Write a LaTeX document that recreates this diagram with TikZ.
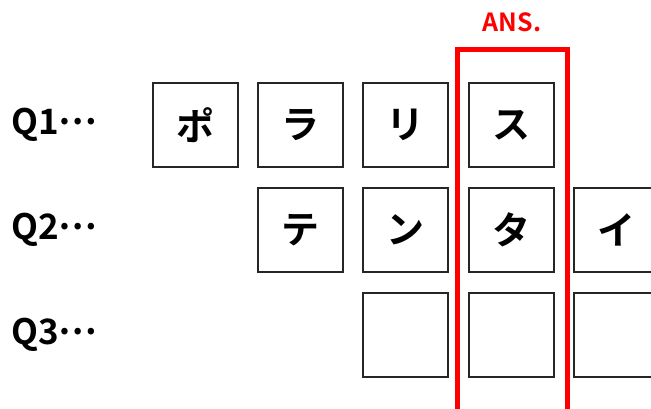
\documentclass[tikz,border=0pt]{standalone}
\usepackage{fontspec}
\setmainfont{Noto Sans CJK JP}[BoldFont={* Bold}]
\newfontfamily\jpb{Noto Sans CJK JP Bold}
\newcommand{\mydots}{\raisebox{0.3em}{…}}
\begin{document}
\begin{tikzpicture}[x=1pt,y=-1pt,
  cell/.style={draw=black!85, line width=1.6pt, minimum width=85pt, minimum height=84pt, inner sep=0pt, font=\jpb\fontsize{38}{42}\selectfont},
  qlab/.style={anchor=west, inner sep=0pt, font=\jpb\fontsize{35}{40}\selectfont},
  anslab/.style={text=red, inner sep=0pt, font=\jpb\fontsize{25}{29}\selectfont}]
\useasboundingbox (0,0) rectangle (651,409);
\clip (0,0) rectangle (651,409);
\fill[white] (0,0) rectangle (651,409);
% labels
\node[qlab] (q1) at (11,125) {Q1\mydots};
\node[qlab] (q2) at (11,230) {Q2\mydots};
\node[qlab] (q3) at (11,335) {Q3\mydots};
% row 1
\node[cell] (a1) at (195.5,125) {ポ};
\node[cell] (a2) at (300.5,125) {ラ};
\node[cell] (a3) at (405.5,125) {リ};
\node[cell] (a4) at (511.5,125) {ス};
% row 2
\node[cell] (b2) at (300.5,230) {テ};
\node[cell] (b3) at (405.5,230) {ン};
\node[cell] (b4) at (511.5,230) {タ};
\node[cell] (b5) at (616.5,230) {イ};
% row 3
\node[cell] (c3) at (405.5,335) {};
\node[cell] (c4) at (511.5,335) {};
\node[cell] (c5) at (616.5,335) {};
% answer column
\coordinate (rtl) at (457.5,50);
\coordinate (rbr) at (567.5,430);
\draw[red, line width=5pt] (rtl) rectangle (rbr);
\node[anslab] (ans) at (512,22) {ANS.};
\end{tikzpicture}
\end{document}
